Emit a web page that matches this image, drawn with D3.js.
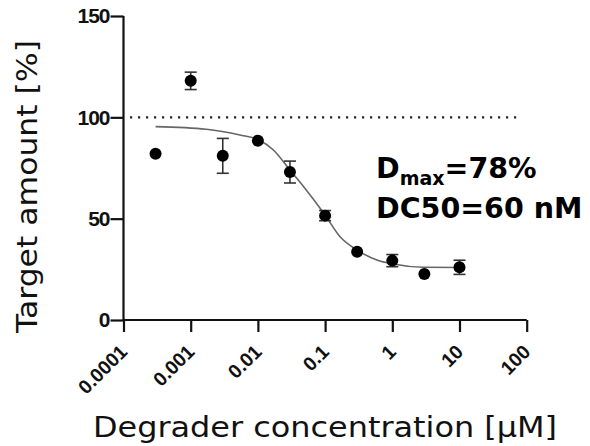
<!DOCTYPE html>
<html>
<head>
<meta charset="utf-8">
<script src="https://cdn.jsdelivr.net/npm/d3@7.9.0/dist/d3.min.js"></script>
<style>
  body { margin: 0; background: #fff; }
  svg { display: block; }
</style>
</head>
<body>
<svg id="chart" width="590" height="446"></svg>
<script>
// measured points (concentration in uM, % target remaining, SD)
const conc = [0.0003, 0.001, 0.003, 0.01, 0.03, 0.1, 0.3, 1, 3, 10];
const amount = [82, 118, 81, 88.5, 73, 51.5, 33.7, 29.3, 22.7, 26];
const errors = [0, 4.3, 8.6, 0, 5.4, 2.5, 0, 3, 0, 3.5];

// fitted curve
const fitConc = [0.0003, 0.0017, 0.0054, 0.01, 0.017, 0.03, 0.048, 0.1, 0.167, 0.3, 0.59, 1.03, 2.9, 10];
const fitAmount = [95.4, 94.1, 91.3, 89.1, 83.9, 74.0, 65.8, 51.8, 41.1, 34.5, 29.6, 27.6, 26.0, 25.9];

const xTicks = [0.0001, 0.001, 0.01, 0.1, 1, 10, 100];
const xTickLabels = ["0.0001", "0.001", "0.01", "0.1", "1", "10", "100"];
const yTicks = [0, 50, 100, 150];

const svg = d3.select("#chart");
const width = +svg.attr("width"),
  height = +svg.attr("height");

const margin = { top: 16, right: 63.3, bottom: 126, left: 123.5 };

const x = d3.scaleLog()
  .domain([0.0001, 100])
  .range([margin.left, width - margin.right]);

const y = d3.scaleLinear()
  .domain([0, 150])
  .range([height - margin.bottom, margin.top]);

const tickFont = "'Liberation Sans', Arial, sans-serif";
const titleFont = "'DejaVu Sans', sans-serif";

// dotted reference line at 100 %
svg.append("line")
  .attr("x1", 130)
  .attr("x2", 521)
  .attr("y1", y(100))
  .attr("y2", y(100))
  .attr("stroke", "#222")
  .attr("stroke-width", 2.2)
  .attr("stroke-dasharray", "2.2,5.8");

// axes
const xAxis = svg.append("g")
  .attr("transform", `translate(0,${y(0)})`)
  .call(d3.axisBottom(x).tickValues(xTicks).tickSize(12).tickFormat(""));

const yAxis = svg.append("g")
  .attr("transform", `translate(${margin.left},0)`)
  .call(d3.axisLeft(y).tickValues(yTicks).tickSize(13).tickPadding(1));

[xAxis, yAxis].forEach(a => {
  a.select(".domain").attr("stroke", "#111").attr("stroke-width", 2.2);
  a.selectAll(".tick line").attr("stroke", "#111").attr("stroke-width", 2.2);
});
xAxis.select(".domain").attr("d", `M${x.range()[0]},0H${x.range()[1]}`);
yAxis.select(".domain").attr("d", `M0,${y.range()[0]}V${y.range()[1]}`);

yAxis.selectAll(".tick text")
  .attr("font-family", tickFont)
  .attr("font-weight", "bold")
  .attr("font-size", "21px")
  .attr("letter-spacing", "-1px")
  .attr("fill", "#111");

// rotated x tick labels
svg.append("g")
  .selectAll("text")
  .data(xTicks)
  .join("text")
  .attr("transform", d => `translate(${x(d) + 5},${y(0) + 33}) rotate(-45)`)
  .attr("text-anchor", "end")
  .attr("font-family", tickFont)
  .attr("font-weight", "bold")
  .attr("font-size", "19.5px")
  .attr("fill", "#111")
  .text((d, i) => xTickLabels[i]);

// fitted curve
const line = d3.line()
  .x((d, i) => x(fitConc[i]))
  .y(d => y(d))
  .curve(d3.curveMonotoneX);

svg.append("path")
  .datum(fitAmount)
  .attr("d", line)
  .attr("fill", "none")
  .attr("stroke", "#666")
  .attr("stroke-width", 1.6);

// error bars
const bars = svg.append("g")
  .selectAll("g")
  .data(conc.map((c, i) => ({ c, v: amount[i], e: errors[i] })).filter(d => d.e > 0))
  .join("g")
  .attr("stroke", "#333")
  .attr("stroke-width", 1.6);

bars.append("line")
  .attr("x1", d => x(d.c)).attr("x2", d => x(d.c))
  .attr("y1", d => y(d.v - d.e)).attr("y2", d => y(d.v + d.e));
bars.append("line")
  .attr("x1", d => x(d.c) - 6).attr("x2", d => x(d.c) + 6)
  .attr("y1", d => y(d.v + d.e)).attr("y2", d => y(d.v + d.e));
bars.append("line")
  .attr("x1", d => x(d.c) - 6).attr("x2", d => x(d.c) + 6)
  .attr("y1", d => y(d.v - d.e)).attr("y2", d => y(d.v - d.e));

// points
svg.append("g")
  .selectAll("circle")
  .data(conc)
  .join("circle")
  .attr("cx", d => x(d))
  .attr("cy", (d, i) => y(amount[i]))
  .attr("r", 6)
  .attr("fill", "#000");

// annotation
const note = svg.append("text")
  .attr("x", 376)
  .attr("y", 178)
  .attr("font-family", titleFont)
  .attr("font-weight", "bold")
  .attr("font-size", "28.5px")
  .attr("fill", "#000");
note.append("tspan").text("D");
note.append("tspan").attr("font-size", "19px").attr("dy", 7).text("max");
note.append("tspan").attr("dy", -7).text("=78%");

svg.append("text")
  .attr("x", 376)
  .attr("y", 218)
  .attr("font-family", titleFont)
  .attr("font-weight", "bold")
  .attr("font-size", "28.5px")
  .attr("fill", "#000")
  .text("DC50=60 nM");

// axis titles
svg.append("text")
  .attr("x", 325)
  .attr("y", 437)
  .attr("text-anchor", "middle")
  .attr("font-family", titleFont)
  .attr("font-size", "27.5px")
  .attr("textLength", 464)
  .attr("lengthAdjust", "spacingAndGlyphs")
  .attr("fill", "#111")
  .text("Degrader concentration [µM]");

svg.append("text")
  .attr("transform", "rotate(-90)")
  .attr("x", -186.5)
  .attr("y", 37)
  .attr("text-anchor", "middle")
  .attr("font-family", titleFont)
  .attr("font-size", "27.5px")
  .attr("textLength", 293)
  .attr("lengthAdjust", "spacingAndGlyphs")
  .attr("fill", "#111")
  .text("Target amount [%]");
</script>
</body>
</html>
